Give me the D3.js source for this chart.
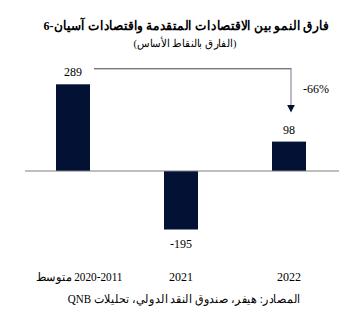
<!DOCTYPE html>
<html><head><meta charset="utf-8">
<script src="https://cdn.jsdelivr.net/npm/d3@7"></script>
<style>
html,body{margin:0;padding:0;background:#fff;}
</style></head>
<body>
<svg id="c" width="339" height="322"></svg>
<script>
const categories = ["2020-2011 متوسط", "2021", "2022"];
const values = [289, -195, 98];
const valueLabels = ["289", "-195", "98"];
const title = "فارق النمو بين الاقتصادات المتقدمة واقتصادات آسيان-6";
const subtitle = "(الفارق بالنقاط الأساس)";
const source = "المصادر: هيفر، صندوق النقد الدولي، تحليلات QNB";
const changeLabel = "-66%";

const FONT = "Liberation Serif";
const svg = d3.select("#c");
const x = d3.scalePoint().domain(categories).range([19, 343]).padding(0.5);
const y = d3.scaleLinear().domain([-195, 289]).range([229.5, 84.3]);
const bw = 34;
const barColor = "#031135";

function txt(xp, yp, s, size) {
  return svg.append("text").attr("x", xp).attr("y", yp).attr("font-family", FONT)
    .attr("font-size", size).attr("fill", "#000").attr("text-anchor", "middle").text(s);
}
// fit a centered text to a given width by horizontal scaling
function fit(sel, cx, cy, width) {
  sel.attr("x", 0).attr("y", 0);
  const len = sel.node().getComputedTextLength();
  sel.attr("transform", `translate(${cx},${cy}) scale(${width / len},1)`);
  return sel;
}

fit(txt(0, 0, title, 13).attr("font-weight", "bold").attr("direction", "rtl"), 186, 30, 276);
fit(txt(0, 0, subtitle, 11).attr("direction", "rtl"), 185, 47, 100);

svg.selectAll("rect.bar").data(values).join("rect").attr("class", "bar")
  .attr("x", (d, i) => x(categories[i]) - bw / 2)
  .attr("y", d => Math.min(y(d), y(0)))
  .attr("width", bw)
  .attr("height", d => Math.abs(y(d) - y(0)))
  .attr("fill", barColor);

svg.append("line").attr("x1", 25).attr("x2", 339).attr("y1", y(0)).attr("y2", y(0))
  .attr("stroke", "#7f7f7f").attr("stroke-width", 1);

values.forEach((d, i) => {
  txt(x(categories[i]), d >= 0 ? y(d) - 8 : y(d) + 18, valueLabels[i], 12);
});

categories.forEach((c, i) => {
  const t = txt(x(c), 281, c, 12).attr("direction", "rtl");
  if (i === 0) fit(t, x(c) + 6, 281, 86);
});

// change arrow
const ax0 = x(categories[0]) + 21, ax1 = x(categories[2]) + 2;
const ay = y(values[0]) - 15.5;
svg.append("line").attr("x1", ax0).attr("x2", ax1 + 0.5).attr("y1", ay).attr("y2", ay)
  .attr("stroke", "#404040").attr("stroke-width", 1);
svg.append("line").attr("x1", ax1).attr("x2", ax1).attr("y1", ay).attr("y2", 106)
  .attr("stroke", "#8a90a0").attr("stroke-width", 1.2);
svg.append("path").attr("d", `M${ax1 - 3.8},105 L${ax1 + 3.8},105 L${ax1},112.5 Z`).attr("fill", barColor);
txt(ax1 + 25, 93, changeLabel, 12);

fit(txt(0, 0, source, 12).attr("direction", "rtl"), 184, 303, 225);
</script>
</body></html>
